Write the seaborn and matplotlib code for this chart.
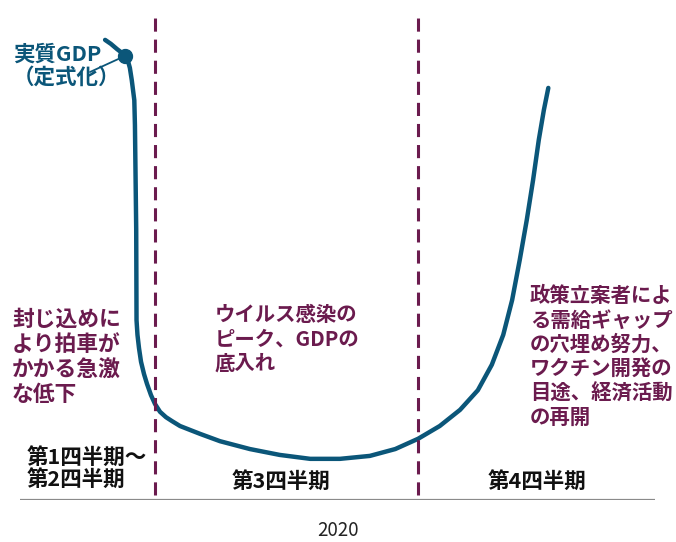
import numpy as np
import pandas as pd
import seaborn as sns
import matplotlib.pyplot as plt

# conceptual GDP path (time units 0-100, GDP level 0-100)
time = [13.4, 14.3, 15.3, 16.1, 16.5, 17.0, 17.3, 17.6, 18.0, 18.1, 18.3, 18.3, 18.3,
        18.3, 18.3,
        18.35, 18.5, 18.74, 19.06, 19.53, 20.0, 20.63, 21.26, 22.05, 22.99, 23.94,
        25.2, 26.77, 28.35, 31.5, 36.2,
        40.9, 45.7, 50.4, 55.1, 59.1, 62.7, 66.1, 69.3, 72.1, 74.3, 76.1, 77.5,
        78.7, 79.8, 80.8, 81.7, 82.5, 83.2]
gdp = [93.9, 93.1, 92.0, 91.2, 90.6, 89.6, 88.2, 85.7, 81.6, 76.5, 70.4, 63.3, 55.1,
       46.9, 40.8,
       36.7, 33.7, 31.0, 28.2, 25.7, 23.7, 21.4, 19.6, 18.0, 16.9, 16.1,
       15.1, 14.3, 13.5, 12.0, 10.4,
       9.2, 8.4, 8.4, 9.0, 10.4, 12.5, 15.1, 18.4, 22.4, 27.6, 33.7, 40.8,
       49.0, 57.1, 65.3, 73.5, 79.6, 84.1]
marker_idx = 4
quarter_bounds = [21.3, 62.7]

series_label = "実質GDP\n（定式化）"
note_q12 = "封じ込めに\nより拍車が\nかかる急激\nな低下"
note_q3 = "ウイルス感染の\nピーク、GDPの\n底入れ"
note_q4 = "政策立案者によ\nる需給ギャップ\nの穴埋め努力、\nワクチン開発の\n目途、経済活動\nの再開"
quarter_labels = ["第1四半期～\n第2四半期", "第3四半期", "第4四半期"]
year_label = "2020"

blue = "#0b5679"
maroon = "#6b1b4e"

sns.set_theme(style="white")
plt.rcParams["font.family"] = ["Noto Sans CJK JP", "DejaVu Sans"]

W, H = 676, 542
fig = plt.figure(figsize=(W / 100, H / 100), dpi=100)
ax = fig.add_axes([20 / W, 42 / H, 635 / W, 490 / H])

df = pd.DataFrame({"time": time, "gdp": gdp})
sns.lineplot(data=df, x="time", y="gdp", sort=False, color=blue, linewidth=3.2,
             ax=ax, solid_capstyle="round", solid_joinstyle="round")
ax.plot(time[marker_idx], gdp[marker_idx], "o", color=blue, markersize=10)

for b in quarter_bounds:
    ax.axvline(b, ymin=0.01, ymax=0.985, color=maroon, linewidth=2.2,
               dashes=(4.3, 2.6))
ax.axhline(0, color="#8a8a8a", linewidth=1.6)

ax.set_xlim(0, 100)
ax.set_ylim(0, 100)
ax.axis("off")


def fp(x, y):
    return x / W, 1 - y / H


fig.text(*fp(13, 44), series_label, color=blue, fontsize=15.5, fontweight="bold",
         va="top", ha="left", linespacing=1.12)
ax.annotate("", xy=(time[marker_idx], gdp[marker_idx]), xytext=fp(90, 72),
            textcoords="figure fraction",
            arrowprops=dict(arrowstyle="-", color=blue, lw=1.3,
                            shrinkA=0, shrinkB=0))

fig.text(*fp(12, 308), note_q12, color=maroon, fontsize=15.7, fontweight="bold",
         va="top", ha="left", linespacing=1.12)
fig.text(*fp(215, 304), note_q3, color=maroon, fontsize=14.7, fontweight="bold",
         va="top", ha="left", linespacing=1.2)
fig.text(*fp(530, 285), note_q4, color=maroon, fontsize=14.7, fontweight="bold",
         va="top", ha="left", linespacing=1.2)

fig.text(*fp(27, 447), quarter_labels[0], color="#111111", fontsize=15.5,
         fontweight="bold", va="top", ha="left", linespacing=1.05)
fig.text(*fp(281, 471), quarter_labels[1], color="#111111", fontsize=15.5,
         fontweight="bold", va="top", ha="center")
fig.text(*fp(537, 471), quarter_labels[2], color="#111111", fontsize=15.5,
         fontweight="bold", va="top", ha="center")

fig.text(*fp(338, 530), year_label, color="#222222", fontsize=13.5,
         va="center", ha="center")

fig.savefig("out.png", dpi=100)
